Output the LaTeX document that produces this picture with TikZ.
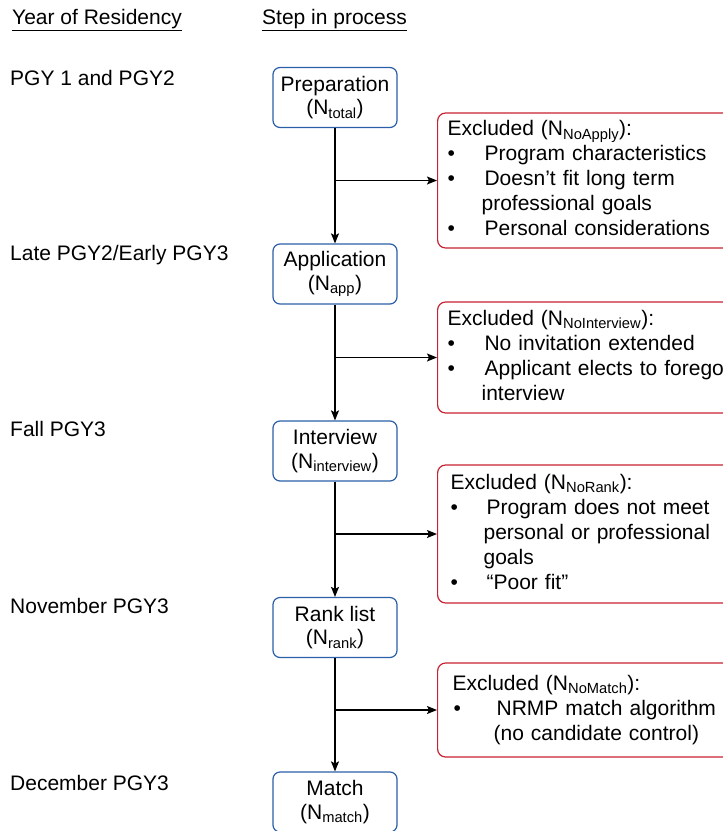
\documentclass[tikz,border=0pt]{standalone}
\usepackage{fontspec}
\setmainfont{Liberation Sans}
\usetikzlibrary{arrows.meta}
\definecolor{stepblue}{HTML}{2B5FA8}
\definecolor{exred}{HTML}{C62232}

\begin{document}
\begin{tikzpicture}[x=1pt,y=-1pt,
	font=\fontsize{21}{23.5}\selectfont,
	stepbox/.style={draw=stepblue,line width=1.2pt,rounded corners=7pt,
		minimum width=124pt,minimum height=60pt,align=center,inner sep=1pt},
	exbox/.style={draw=exred,line width=1.2pt,rounded corners=8pt,anchor=west,
		minimum width=300pt,text width=280pt,inner xsep=10pt,inner ysep=0pt,
		font=\fontsize{21}{25}\selectfont},
	yearlbl/.style={anchor=west,inner sep=0pt},
	flow/.style={-{Stealth[length=10pt,width=8pt,inset=2pt]},line width=1.2pt}]
	\useasboundingbox (0,0) rectangle (723,831);
	% headings
	\node[yearlbl] (hyear) at (12,20) {\underline{Year of Residency}};
	\node[yearlbl] (hstep) at (262,20) {\underline{Step in process}};
	% years
	\node[yearlbl] (y1) at (10,78) {PGY 1 and PGY2};
	\node[yearlbl] (y2) at (10,255) {Late PGY2/Early PGY3};
	\node[yearlbl] (y3) at (10,429) {Fall PGY3};
	\node[yearlbl] (y4) at (10,606) {November PGY3};
	\node[yearlbl] (y5) at (10,783) {December PGY3};
	% steps
	\node[stepbox] (prep) at (335,97.5) {Preparation\\(N\textsubscript{total})};
	\node[stepbox] (app) at (335,274) {Application\\(N\textsubscript{app})};
	\node[stepbox] (intv) at (335,451) {Interview\\(N\textsubscript{interview})};
	\node[stepbox] (rank) at (335,627.5) {Rank list\\(N\textsubscript{rank})};
	\node[stepbox] (match) at (335,802) {Match\\(N\textsubscript{match})};
	% exclusions
	\node[exbox,minimum height=135pt] (ex1) at (437,180.5) {%
		\begin{tabular}{@{}p{37pt}@{}l@{}}
			\multicolumn{2}{@{}l@{}}{Excluded (N\textsubscript{NoApply}):}\\
			\textbullet & Program characteristics\\
			\textbullet & Doesn't fit long term\\
			& \hspace{-3pt}professional goals\\
			\textbullet & Personal considerations
		\end{tabular}};
	\node[exbox,minimum height=111pt] (ex2) at (437,357.5) {%
		\begin{tabular}{@{}p{37pt}@{}l@{}}
			\multicolumn{2}{@{}l@{}}{Excluded (N\textsubscript{NoInterview}):}\\
			\textbullet & No invitation extended\\
			\textbullet & Applicant elects to forego\\
			& \hspace{-3pt}interview
		\end{tabular}};
	\node[exbox,minimum height=138pt] (ex3) at (437,534) {%
		\begin{tabular}{@{}p{39pt}@{}l@{}}
			\multicolumn{2}{@{}l@{}}{\hspace{3pt}Excluded (N\textsubscript{NoRank}):}\\
			\hspace{3pt}\textbullet & Program does not meet\\
			& \hspace{-3pt}personal or professional\\
			& \hspace{-3pt}goals\\
			\hspace{3pt}\textbullet & ``Poor fit''
		\end{tabular}};
	\node[exbox,minimum height=94pt] (ex4) at (437,710) {%
		\begin{tabular}{@{}p{49pt}@{}l@{}}
			\multicolumn{2}{@{}l@{}}{\hspace{5pt}Excluded (N\textsubscript{NoMatch}):}\\
			\hspace{6pt}\textbullet & NRMP match algorithm\\
			& \hspace{-3pt}(no candidate control)
		\end{tabular}};
	% flow
	\draw[flow] (prep) -- (app);
	\draw[flow] (app) -- (intv);
	\draw[flow] (intv) -- (rank);
	\draw[flow] (rank) -- (match);
	\draw[flow] (prep.south |- ex1.west) -- (ex1.west);
	\draw[flow] (app.south |- ex2.west) -- (ex2.west);
	\draw[flow] (intv.south |- ex3.west) -- (ex3.west);
	\draw[flow] (rank.south |- ex4.west) -- (ex4.west);
\end{tikzpicture}
\end{document}
